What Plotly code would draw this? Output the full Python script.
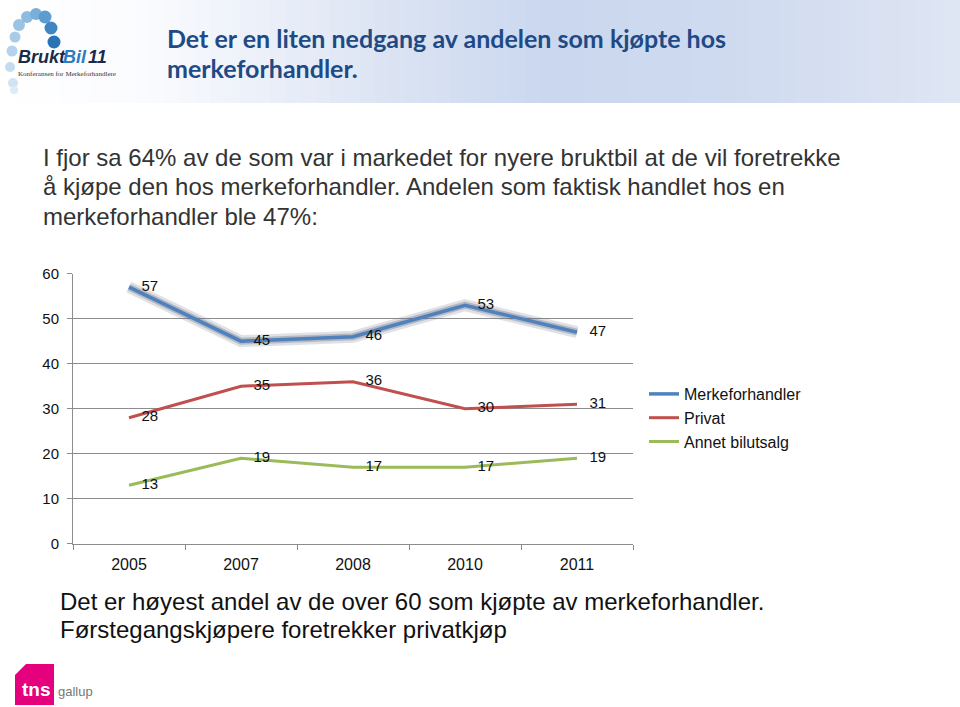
import plotly.graph_objects as go

W, H = 960, 707

years = ["2005", "2007", "2008", "2010", "2011"]
merkeforhandler = [57, 45, 46, 53, 47]
privat = [28, 35, 36, 30, 31]
annet = [13, 19, 17, 17, 19]
y_ticks = [0, 10, 20, 30, 40, 50, 60]

series_names = ["Merkeforhandler", "Privat", "Annet bilutsalg"]
series_colors = ["#4F81BD", "#C0504D", "#9BBB59"]

title_lines = ["Det er en liten nedgang av andelen som kjøpte hos", "merkeforhandler."]
body_lines = ["I fjor sa 64% av de som var i markedet for nyere bruktbil at de vil foretrekke",
              "å kjøpe den hos merkeforhandler. Andelen som faktisk handlet hos en",
              "merkeforhandler ble 47%:"]
foot_lines = ["Det er høyest andel av de over 60 som kjøpte av merkeforhandler.",
              "Førstegangskjøpere foretrekker privatkjøp"]

def px(x):
    return x / W

def py(y):
    return 1 - y / H

fig = go.Figure()

fig.add_trace(go.Scatter(x=years, y=merkeforhandler, mode="lines",
                         line=dict(color="rgba(110,120,140,0.22)", width=12),
                         hoverinfo="skip", showlegend=False))
fig.add_trace(go.Scatter(x=years, y=merkeforhandler, mode="lines",
                         line=dict(color="rgba(100,110,130,0.35)", width=7),
                         hoverinfo="skip", showlegend=False))

NB = "\u00a0\u00a0\u00a0"
for name, vals, col, w in zip(series_names, [merkeforhandler, privat, annet],
                              series_colors, [3.5, 3, 3]):
    fig.add_trace(go.Scatter(
        x=years, y=vals, name=name, mode="lines+text", legendgroup=name,
        text=[NB + str(v) for v in vals], textposition="middle right",
        textfont=dict(family="Liberation Sans, Arial", size=15, color="#111111"),
        line=dict(color=col, width=w),
        cliponaxis=False,
    ))

shapes = []
stops = [(0, (255, 255, 255)), (150, (250, 251, 254)), (350, (224, 231, 245)),
         (550, (202, 215, 238)), (720, (206, 218, 239)), (960, (223, 229, 243))]
def col_at(x):
    for (x0, c0), (x1, c1) in zip(stops[:-1], stops[1:]):
        if x0 <= x <= x1:
            t = (x - x0) / (x1 - x0) if x1 > x0 else 0
            return tuple(round(c0[i] + (c1[i] - c0[i]) * t) for i in range(3))
    return stops[-1][1]
n = 64
for i in range(n):
    x0 = W * i / n
    x1 = W * (i + 1) / n
    c = col_at((x0 + x1) / 2)
    shapes.append(dict(type="rect", xref="paper", yref="paper", layer="below",
                       x0=px(x0), x1=px(x1) + 0.001, y0=py(103), y1=py(-2),
                       fillcolor="rgb(%d,%d,%d)" % c, line=dict(width=0)))

dots = [(13, 83, 5, "#cfe3f3"), (10, 67, 5, "#c3dcef"), (12, 51, 5.5, "#b5d3ec"),
        (15, 37, 5.5, "#a9cbe8"), (19, 25, 6, "#9bc3e4"), (27, 17, 6, "#8dbbe1"),
        (36, 14, 6, "#79aed9"), (45, 17, 6.5, "#5d9ccf"), (51, 28, 6.5, "#3f86c2"),
        (54, 42, 6.5, "#2a74b5"), (14, 90, 4, "#dcebf7")]
for (cx, cy, r, c) in dots:
    shapes.append(dict(type="circle", xref="paper", yref="paper",
                       x0=px(cx - r), x1=px(cx + r), y0=py(cy + r), y1=py(cy - r),
                       fillcolor=c, line=dict(width=0)))

shapes.append(dict(type="path", xref="paper", yref="paper",
                   path="M %f %f L %f %f L %f %f L %f %f L %f %f Z" % (
                       px(15), py(705), px(15), py(675), px(26), py(664),
                       px(54), py(664), px(54), py(705)),
                   fillcolor="#E5007D", line=dict(width=0)))

def ann(text, x, y, xanchor="left", yanchor="middle", **font):
    return dict(text=text, x=px(x), y=py(y), xref="paper", yref="paper",
                xanchor=xanchor, yanchor=yanchor, align="left", showarrow=False,
                font=font)

annotations = []
for t, yy in zip(title_lines, [38, 68]):
    annotations.append(ann("<b>%s</b>" % t, 165, yy, family="Lato", size=25, color="#1F4A85"))
for t, yy in zip(body_lines, [157, 186.5, 216]):
    annotations.append(ann(t, 41, yy, family="Liberation Sans, Arial", size=24, color="#333333"))
for t, yy in zip(foot_lines, [601, 629]):
    annotations.append(ann(t, 58, yy, family="Liberation Sans, Arial", size=24, color="#111111"))

annotations += [
    ann("<b><i>Brukt</i></b>", 16, 57,
        family="Liberation Sans Narrow, Liberation Sans", size=18, color="#1B2A4A"),
    ann("<b><i>Bil</i></b>", 61, 57,
        family="Liberation Sans Narrow, Liberation Sans", size=18, color="#2E7CC0"),
    ann("<b><i>11</i></b>", 86, 57,
        family="Liberation Sans Narrow, Liberation Sans", size=18, color="#1B2A4A"),
    ann("Konferansen for Merkeforhandlere", 16, 74,
        family="Liberation Serif", size=7, color="#333333"),
    ann("<b>tns</b>", 36, 689, xanchor="center",
        family="Liberation Sans", size=19, color="white"),
    ann("gallup", 56, 691,
        family="Liberation Sans Narrow, Liberation Sans", size=13, color="#777777"),
]

fig.update_layout(
    width=W, height=H, autosize=False,
    margin=dict(l=0, r=0, t=0, b=0, pad=0, autoexpand=False),
    paper_bgcolor="white", plot_bgcolor="white",
    shapes=shapes, annotations=annotations,
    font=dict(family="Liberation Sans, Arial", size=15, color="#222222"),
    xaxis=dict(domain=[px(73), px(633)], type="category", range=[-0.5, 4.5],
               showgrid=False, showline=True, linecolor="#8c8c8c", linewidth=1,
               ticks="outside", tickson="boundaries", ticklen=5, tickcolor="#8c8c8c",
               ticklabelstandoff=6, automargin=False,
               tickfont=dict(size=16, color="#111111"), fixedrange=True),
    yaxis=dict(domain=[py(543.7), py(273.7)], range=[0, 60], tickvals=y_ticks,
               showgrid=True, gridcolor="#8c8c8c", gridwidth=1,
               showline=True, linecolor="#8c8c8c", linewidth=1,
               ticks="outside", ticklen=5, tickcolor="#8c8c8c",
               ticklabelstandoff=5, automargin=False,
               tickfont=dict(size=15, color="#111111"), zeroline=False, fixedrange=True),
    legend=dict(x=px(644), y=py(377), xanchor="left", yanchor="top",
                font=dict(family="Liberation Sans, Arial", size=16, color="#111111"),
                tracegroupgap=0, itemwidth=30, bgcolor="rgba(0,0,0,0)"),
    showlegend=True,
)

css = ("var s=document.createElement('style');"
       "s.innerHTML='html,body{margin:0 !important;padding:0 !important;overflow:hidden;}';"
       "document.head.appendChild(s);")
fig.write_html("out.html", config={"displayModeBar": False}, post_script=css)
